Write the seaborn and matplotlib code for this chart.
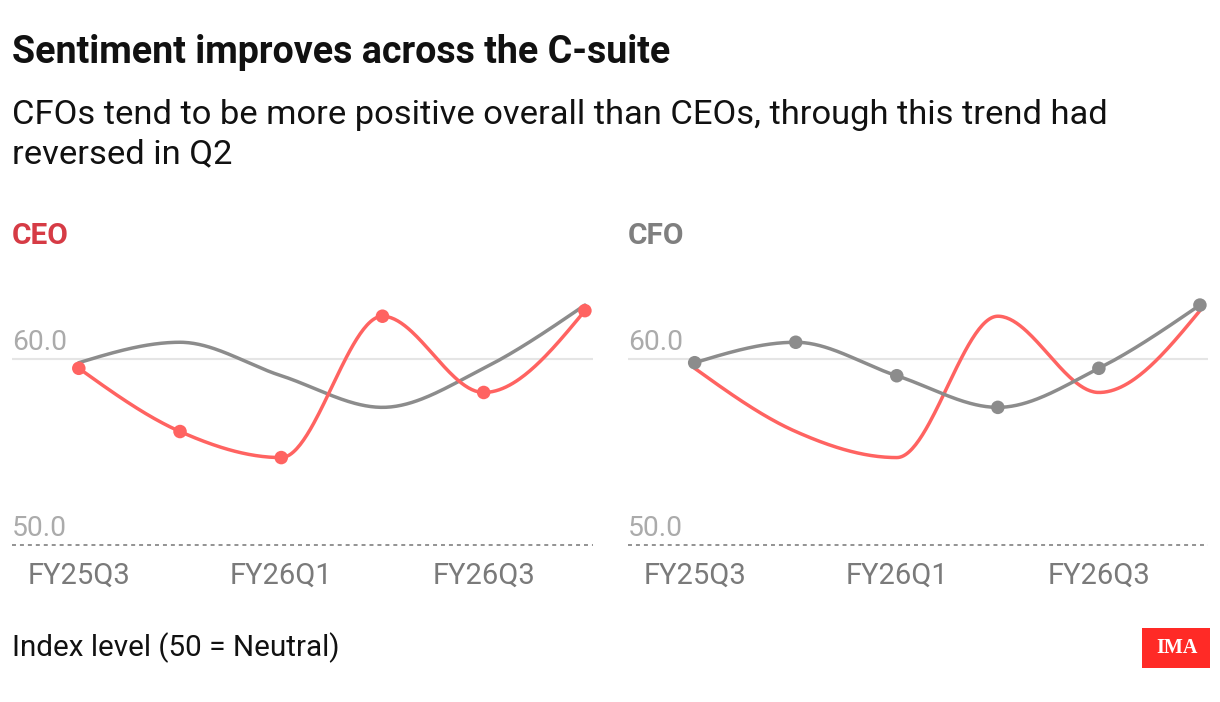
import numpy as np
import pandas as pd
import matplotlib
matplotlib.use("Agg")
import matplotlib.pyplot as plt
import matplotlib.transforms as mtransforms
from matplotlib.patches import Rectangle
import seaborn as sns

# ---------------- data ----------------
quarters = ["FY25Q3", "FY25Q4", "FY26Q1", "FY26Q2", "FY26Q3", "FY26Q4"]
ceo_values = [59.5, 56.1, 54.7, 62.3, 58.2, 62.6]
cfo_values = [59.8, 60.9, 59.1, 57.4, 59.5, 62.9]
tick_labels = ["FY25Q3", "FY26Q1", "FY26Q3"]
y_ticks = [50, 60]

title = "Sentiment improves across the C-suite"
subtitle = ["CFOs tend to be more positive overall than CEOs, through this trend had",
            "reversed in Q2"]
footer = "Index level (50 = Neutral)"

RED = "#FF6361"
GREY = "#8C8C8C"

# ---------------- style ----------------
sns.set_theme(style="white")
plt.rcParams["font.family"] = ["Roboto", "DejaVu Sans"]

W, H = 1220, 702
fig = plt.figure(figsize=(W / 100, H / 100), dpi=100)
fig.patch.set_facecolor("white")


def fx(px):
    return px / W


def fy(py):
    return 1 - py / H


def monotone_x(x, y, n=60):
    """d3 curveMonotoneX rendering of a line through the points."""
    x = np.asarray(x, float)
    y = np.asarray(y, float)
    k = len(x)
    h = np.diff(x)
    s = np.diff(y) / h
    t = np.zeros(k)
    for i in range(1, k - 1):
        h0, h1, s0, s1 = h[i - 1], h[i], s[i - 1], s[i]
        p = (s0 * h1 + s1 * h0) / (h0 + h1)
        t[i] = (np.sign(s0) + np.sign(s1)) * min(abs(s0), abs(s1), 0.5 * abs(p))
    t[0] = (3 * s[0] - t[1]) / 2
    t[-1] = (3 * s[-1] - t[-2]) / 2
    xs, ys = [], []
    for i in range(k - 1):
        u = np.linspace(0, 1, n)
        dx = h[i] / 3
        P0 = y[i]
        P1 = y[i] + dx * t[i]
        P2 = y[i + 1] - dx * t[i + 1]
        P3 = y[i + 1]
        yy = ((1 - u) ** 3) * P0 + 3 * ((1 - u) ** 2) * u * P1 + 3 * (1 - u) * u ** 2 * P2 + u ** 3 * P3
        xx = x[i] + u * h[i]
        xs.append(xx)
        ys.append(yy)
    return np.concatenate(xs), np.concatenate(ys)


df = pd.DataFrame({"quarter": quarters, "pos": np.arange(len(quarters)),
                   "CEO": ceo_values, "CFO": cfo_values})

# axes geometry in pixels
ax_bottom_px, ax_top_px = 545, 284.6
panels = [
    ("CEO", "CFO", 12, 593, "#D63B45"),
    ("CFO", "CEO", 628, 1208, "#7F7F7F"),
]
colors = {"CEO": RED, "CFO": GREY}

for main, other, x0, x1, label_color in panels:
    ax = fig.add_axes([fx(x0), fy(ax_bottom_px), fx(x1 - x0), (ax_bottom_px - ax_top_px) / H])
    ax.set_facecolor("none")
    for sp in ax.spines.values():
        sp.set_visible(False)

    # reference lines
    ax.axhline(y_ticks[1], color="#E5E5E5", lw=1.5, zorder=1)
    ax.axhline(y_ticks[0], color="#8A8A8A", lw=1.3, ls=(0, (2.2, 2.2)), zorder=1, clip_on=False)

    # other series (no markers) then main series with markers
    for ser, mk in [(other, False), (main, True)]:
        cx, cy = monotone_x(df["pos"], df[ser])
        sns.lineplot(x=cx, y=cy, ax=ax, color=colors[ser], lw=2.5, sort=False,
                     estimator=None, zorder=3 if mk else 2, legend=False)
        if mk:
            sns.scatterplot(data=df, x="pos", y=ser, ax=ax, color=colors[ser], s=95,
                            edgecolor="none", zorder=4, legend=False, clip_on=False)

    ax.set_xlim(-0.66, 5.08)
    ax.set_ylim(50, 64)
    ax.set_yticks([])
    ax.set_xticks([quarters.index(q) for q in tick_labels])
    ax.set_xticklabels(tick_labels, fontsize=21, color="#7A7A7A")
    ax.tick_params(axis="x", length=0, pad=12)
    ax.set_xlabel("")
    ax.set_ylabel("")

    trans = mtransforms.offset_copy(
        mtransforms.blended_transform_factory(ax.transAxes, ax.transData),
        fig=fig, x=0, y=9, units="dots")
    for v in y_ticks:
        ax.text(0, v, f"{v:.1f}", transform=trans, fontsize=20.3, color="#ABABAB",
                ha="left", va="baseline")

    fig.text(fx(x0), fy(244), main, fontsize=21.5, weight="bold", color=label_color,
             ha="left", va="baseline")

# titles
fig.text(fx(12), fy(63), title, fontsize=27.1, weight="bold", color="#111111",
         ha="left", va="baseline")
fig.text(fx(12), fy(124), subtitle[0], fontsize=24.8, color="#111111", ha="left", va="baseline")
fig.text(fx(12), fy(163), subtitle[1], fontsize=24.8, color="#111111", ha="left", va="baseline")

# footer
fig.text(fx(12), fy(656), footer, fontsize=21.3, color="#111111", ha="left", va="baseline")

# logo
fig.patches.append(Rectangle((fx(1142), fy(668)), fx(68), 40 / H, transform=fig.transFigure,
                             facecolor="#FF2A26", edgecolor="none"))
fig.text(fx(1177), fy(648), "IMA", fontsize=14.5, weight="bold", color="white",
         family=["Liberation Serif", "DejaVu Serif"], ha="center", va="center")

fig.savefig("out.png", dpi=100, facecolor="white")
